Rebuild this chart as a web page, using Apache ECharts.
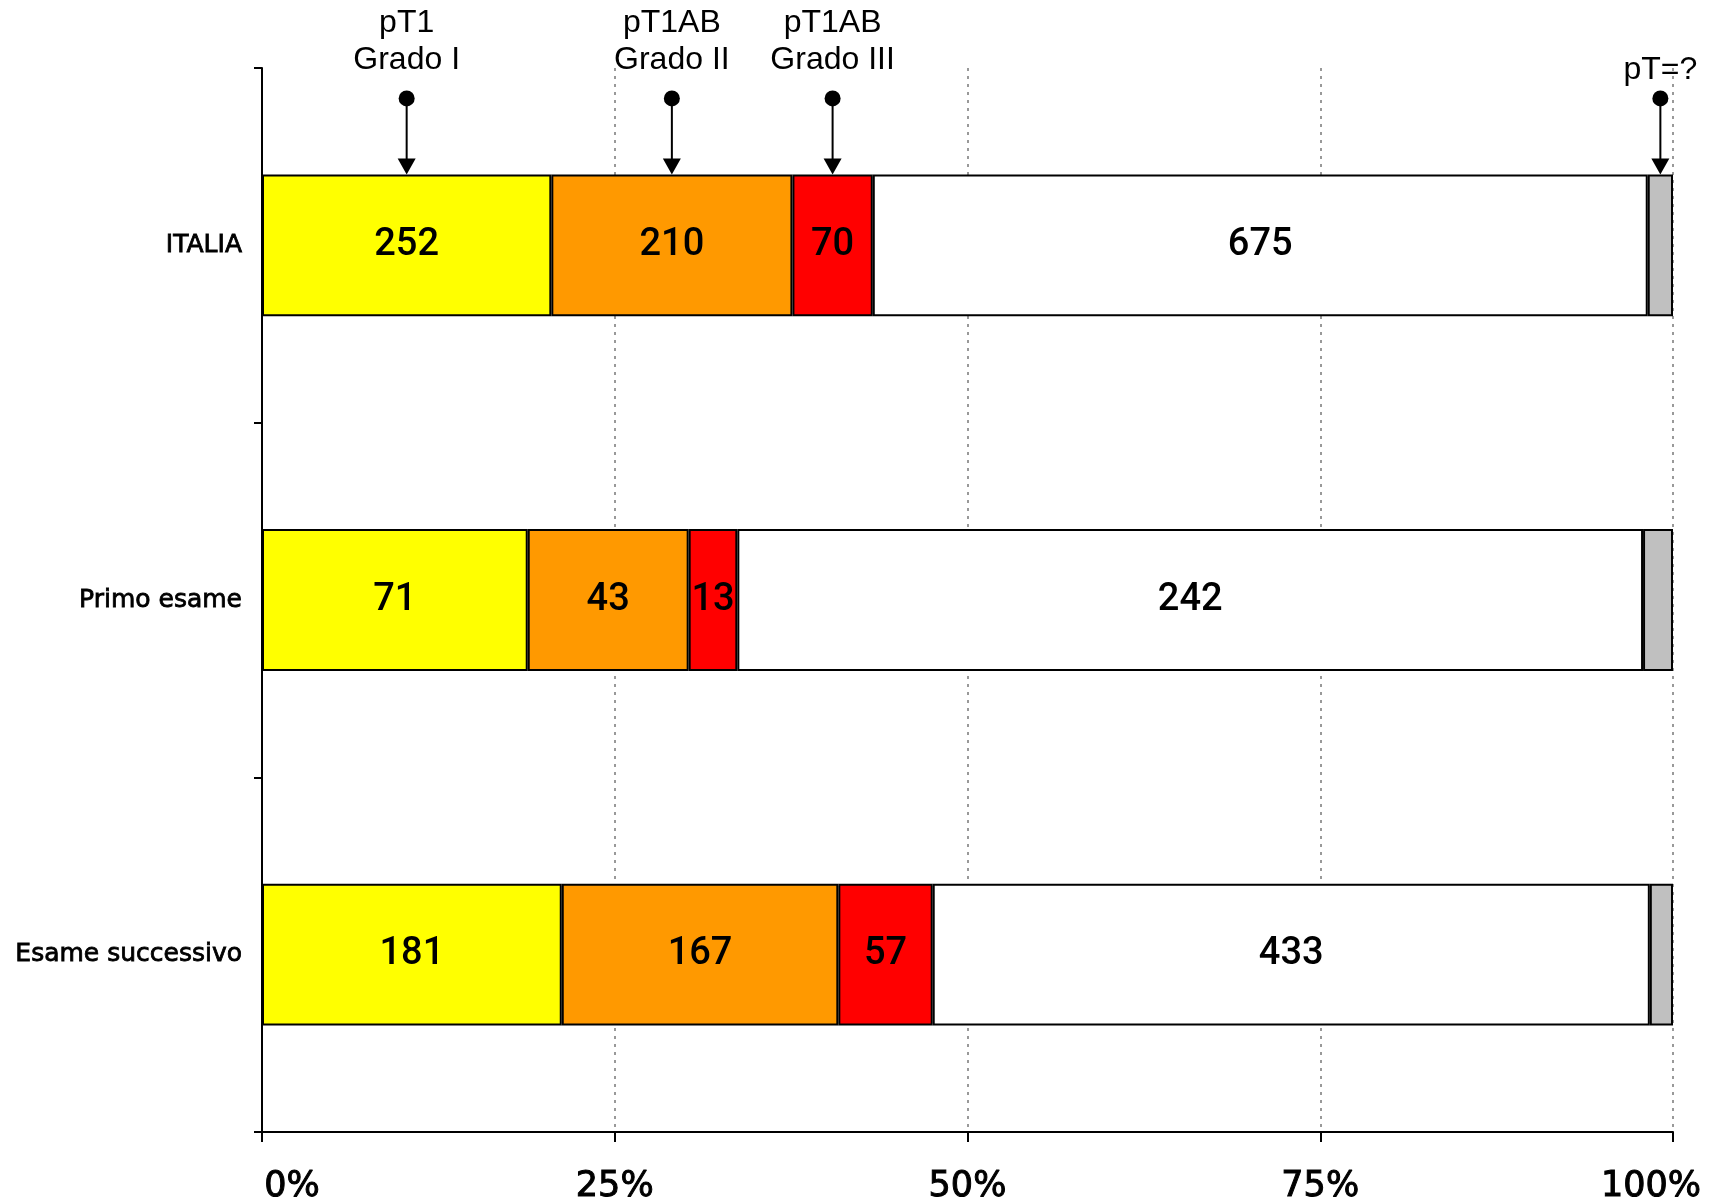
<!DOCTYPE html>
<html>
<head>
<meta charset="utf-8">
<script src="https://cdn.jsdelivr.net/npm/echarts@6/dist/echarts.min.js"></script>
<style>
  html, body { margin: 0; padding: 0; background: #fff; }
  #chart { width: 1721px; height: 1197px; }
</style>
</head>
<body>
<div id="chart"></div>
<script>
// Row labels, top to bottom
const categories = ['ITALIA', 'Primo esame', 'Esame successivo'];

// Counts per stage for each row
const grado1 = [252, 71, 181];
const grado2 = [210, 43, 167];
const grado3 = [70, 13, 57];
const altri = [675, 242, 433];
const ignoto = [22, 8, 14];

const seriesNames = ['pT1 Grado I', 'pT1AB Grado II', 'pT1AB Grado III', 'Altri', 'pT=?'];
const seriesColors = ['#FFFF00', '#FF9900', '#FF0000', '#FFFFFF', '#C0C0C0'];
const showValue = [true, true, true, true, false];

// Callout texts above the first row, one per stage
const calloutTexts = ['pT1\nGrado I', 'pT1AB\nGrado II', 'pT1AB\nGrado III', null, 'pT=?'];

const xTicks = [0, 25, 50, 75, 100];

const counts = [grado1, grado2, grado3, altri, ignoto];
const totals = categories.map((_, i) => counts.reduce((s, arr) => s + arr[i], 0));
const pct = counts.map(arr => arr.map((v, i) => v / totals[i] * 100));

const chart = echarts.init(document.getElementById('chart'));

const barSeries = counts.map((arr, k) => ({
  name: seriesNames[k],
  type: 'bar',
  stack: 'tot',
  barWidth: '40%',
  itemStyle: { color: seriesColors[k], borderColor: '#000', borderWidth: 2 },
  label: {
    show: showValue[k],
    position: 'inside',
    color: '#000',
    fontFamily: 'Roboto',
    fontWeight: 500,
    fontSize: 38,
    formatter: p => String(arr[p.dataIndex])
  },
  data: pct[k].map(v => v)
}));

// Callout anchors: centre of each segment in the first row
const calloutData = [];
let acc = 0;
pct.forEach((arr, k) => {
  const mid = acc + arr[0] / 2;
  acc += arr[0];
  if (calloutTexts[k]) calloutData.push([mid, 0, calloutTexts[k]]);
});

const calloutSeries = {
  type: 'custom',
  clip: false,
  z: 10,
  silent: true,
  data: calloutData,
  encode: { x: 0, y: 1 },
  renderItem: function (params, api) {
    const pt = api.coord([api.value(0), api.value(1)]);
    const band = api.size([0, 1])[1];
    const barTop = pt[1] - band * 0.4 / 2;
    const x = pt[0];
    const dotY = barTop - 76;
    const text = calloutData[params.dataIndex][2];
    const oneLine = text.indexOf('\n') < 0;
    return {
      type: 'group',
      children: [
        { type: 'line', shape: { x1: x, y1: dotY, x2: x, y2: barTop - 14 },
          style: { stroke: '#000', lineWidth: 2 } },
        { type: 'polygon', shape: { points: [[x - 9, barTop - 16], [x + 9, barTop - 16], [x, barTop]] },
          style: { fill: '#000' } },
        { type: 'circle', shape: { cx: x, cy: dotY, r: 8 }, style: { fill: '#000' } },
        { type: 'text', x: x, y: barTop - (oneLine ? 86 : 96),
          style: {
            text: text, align: 'center', verticalAlign: 'bottom',
            font: '32px "Liberation Sans", Arial, sans-serif',
            lineHeight: 37, fill: '#000'
          } }
      ]
    };
  }
};

chart.setOption({
  animation: false,
  backgroundColor: '#fff',
  grid: { left: 262, right: 48, top: 68, bottom: 65, containLabel: false, outerBoundsMode: 'none' },
  xAxis: {
    type: 'value',
    min: 0, max: 100, interval: 25,
    axisLine: { show: true, lineStyle: { color: '#000', width: 2 } },
    axisTick: { show: true, length: 10, lineStyle: { color: '#000', width: 2 } },
    axisLabel: {
      formatter: v => {
        if (xTicks.indexOf(v) < 0) return '';
        if (v === xTicks[0]) return '{first|' + v + '%}';
        if (v === xTicks[xTicks.length - 1]) return '{last|' + v + '%}';
        return v + '%';
      },
      rich: {
        first: { padding: [0, 0, 0, 60] },
        last: { padding: [0, 44, 0, 0] }
      },
      color: '#000', fontFamily: 'DejaVu Sans', fontSize: 35, margin: 37,
      textBorderColor: '#000', textBorderWidth: 1
    },
    splitLine: { show: true, lineStyle: { color: '#999', width: 2, type: [3, 5] } }
  },
  yAxis: {
    type: 'category',
    inverse: true,
    data: categories,
    axisLine: { show: true, lineStyle: { color: '#000', width: 2 } },
    axisTick: { show: true, length: 8, lineStyle: { color: '#000', width: 2 } },
    axisLabel: {
      color: '#000', fontFamily: 'DejaVu Sans', fontSize: 25, margin: 20,
      textBorderColor: '#000', textBorderWidth: 0.8
    },
    splitLine: { show: false }
  },
  series: barSeries.concat([calloutSeries])
});
</script>
</body>
</html>
